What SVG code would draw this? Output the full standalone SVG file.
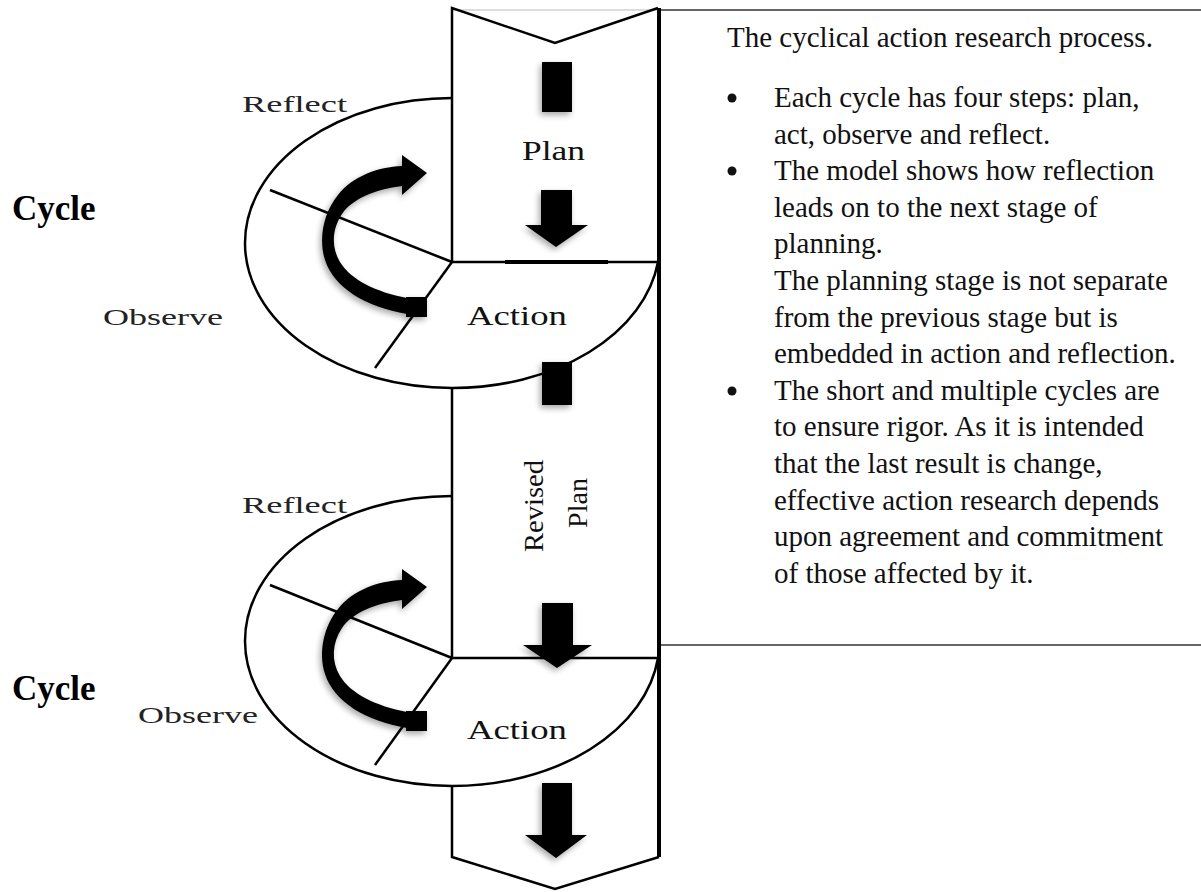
<svg xmlns="http://www.w3.org/2000/svg" width="1201" height="892" viewBox="0 0 1201 892">
  <style>
    .line { fill: none; stroke: #000; stroke-width: 2.5; }
    .thick { fill: none; stroke: #000; stroke-width: 4; }
    .frame { fill: none; stroke: #333; stroke-width: 1.5; }
    .solid { fill: #000; }
    .lbl { font-family: "Liberation Serif", "Times New Roman", serif; font-size: 28px; fill: #111; }
    .side { font-family: "Liberation Serif", "Times New Roman", serif; font-size: 23px; fill: #222; }
    .cyc { font-family: "Liberation Serif", "Times New Roman", serif; font-size: 35px; font-weight: bold; fill: #000; }
    .body { font-family: "Liberation Serif", "Times New Roman", serif; font-size: 29px; fill: #111; }
    .dot { fill: #111; }
  </style>
  <defs>
    <filter id="soft" x="-40%" y="-40%" width="180%" height="180%">
      <feGaussianBlur in="SourceAlpha" stdDeviation="3"/>
      <feOffset dx="-2" dy="3" result="blur"/>
      <feComponentTransfer><feFuncA type="linear" slope="0.35"/></feComponentTransfer>
      <feMerge><feMergeNode/><feMergeNode in="SourceGraphic"/></feMerge>
    </filter>
    <!-- curved cycle arrow: band sweeping round the left and ending in a head -->
    <g id="curl">
      <path class="solid" d="M402,155 L427,173 L402,195 L402,186 C376,189 352,199 342,214 C332,229 331,247 340,262 C351,280 376,292 407,298 L407,314 C366,307 334,288 325,260 C318,238 324,212 338,195 C353,176 378,167 402,166 Z"/>
      <rect class="solid" x="406" y="297" width="21" height="20"/>
    </g>
  </defs>

  <rect width="1201" height="892" fill="#fff"/>

  <!-- text panel borders -->
  <g id="panel">
    <line x1="452" y1="10" x2="660" y2="10" stroke="#bbb" stroke-width="1"/>
    <line x1="660" y1="10" x2="1201" y2="10" class="frame"/>
    <line x1="660" y1="645" x2="1201" y2="645" class="frame"/>
  </g>

  <!-- vertical process column with chevron ends -->
  <g id="column">
    <polyline class="line" points="452,262 452,8 555,43 658,8"/>
    <line class="thick" x1="659" y1="8" x2="659" y2="857"/>
    <line class="line" x1="452" y1="387" x2="452" y2="658"/>
    <polyline class="line" points="452,785 452,857 555,889 659,857"/>
  </g>

  <!-- cycle 1 -->
  <g id="cycle1">
    <path class="line" d="M452,98 A207,145 0 0 0 452,388 A207,145 0 0 0 658,262"/>
    <line class="line" x1="452" y1="262" x2="658" y2="262"/>
    <line x1="505" y1="262" x2="608" y2="262" stroke="#000" stroke-width="4"/>
    <line class="line" x1="452" y1="262" x2="270" y2="190"/>
    <line class="line" x1="452" y1="262" x2="375" y2="368"/>
    <use href="#curl" filter="url(#soft)"/>
  </g>

  <!-- cycle 2 -->
  <g id="cycle2">
    <path class="line" d="M452,496 A207,145 0 0 0 452,786 A207,145 0 0 0 658,658"/>
    <line class="line" x1="452" y1="658" x2="658" y2="658"/>
    <line class="line" x1="452" y1="658" x2="270" y2="585"/>
    <line class="line" x1="452" y1="658" x2="375" y2="765"/>
    <use href="#curl" transform="translate(0,414)" filter="url(#soft)"/>
  </g>

  <!-- block arrows inside the column -->
  <g id="column-arrows" filter="url(#soft)">
    <rect class="solid" x="542" y="62" width="30" height="50"/>
    <path class="solid" d="M541,190 H572 V225 H588 L556,247 L525,225 H541 Z"/>
    <rect class="solid" x="542" y="362" width="30" height="43"/>
    <path class="solid" d="M542,603 H573 V645 H592 L557,668 L523,645 H542 Z"/>
    <path class="solid" d="M542,783 H572 V835 H587 L556,858 L525,835 H542 Z"/>
  </g>

  <!-- stage labels -->
  <g id="labels">
    <text class="lbl" x="522" y="160" textLength="63" lengthAdjust="spacingAndGlyphs">Plan</text>
    <text class="lbl" x="467" y="325" textLength="100" lengthAdjust="spacingAndGlyphs">Action</text>
    <text class="lbl" x="467" y="739" textLength="100" lengthAdjust="spacingAndGlyphs">Action</text>
    <text class="lbl" transform="translate(543,506) rotate(-90)" text-anchor="middle" textLength="92" lengthAdjust="spacingAndGlyphs">Revised</text>
    <text class="lbl" transform="translate(587,503) rotate(-90)" text-anchor="middle" textLength="50" lengthAdjust="spacingAndGlyphs">Plan</text>
    <text class="side" x="242" y="112" textLength="105" lengthAdjust="spacingAndGlyphs">Reflect</text>
    <text class="side" x="242" y="513" textLength="105" lengthAdjust="spacingAndGlyphs">Reflect</text>
    <text class="side" x="103" y="325" textLength="120" lengthAdjust="spacingAndGlyphs">Observe</text>
    <text class="side" x="138" y="723" textLength="120" lengthAdjust="spacingAndGlyphs">Observe</text>
    <text class="cyc" x="12" y="220">Cycle</text>
    <text class="cyc" x="12" y="700">Cycle</text>
  </g>

  <!-- explanatory notes -->
  <g id="notes" class="body">
    <text x="727" y="47">The cyclical action research process.</text>
    <circle class="dot" cx="732" cy="98" r="4.5"/>
    <text x="774" y="107">Each cycle has four steps: plan,</text>
    <text x="774" y="143.6">act, observe and reflect.</text>
    <circle class="dot" cx="732" cy="171" r="4.5"/>
    <text x="774" y="180.2">The model shows how reflection</text>
    <text x="774" y="216.8">leads on to the next stage of</text>
    <text x="774" y="253.4">planning.</text>
    <text x="774" y="290">The planning stage is not separate</text>
    <text x="774" y="326.6">from the previous stage but is</text>
    <text x="774" y="363.2">embedded in action and reflection.</text>
    <circle class="dot" cx="732" cy="391" r="4.5"/>
    <text x="774" y="399.8">The short and multiple cycles are</text>
    <text x="774" y="436.4">to ensure rigor. As it is intended</text>
    <text x="774" y="473">that the last result is change,</text>
    <text x="774" y="509.6">effective action research depends</text>
    <text x="774" y="546.2">upon agreement and commitment</text>
    <text x="774" y="582.8">of those affected by it.</text>
  </g>
</svg>
